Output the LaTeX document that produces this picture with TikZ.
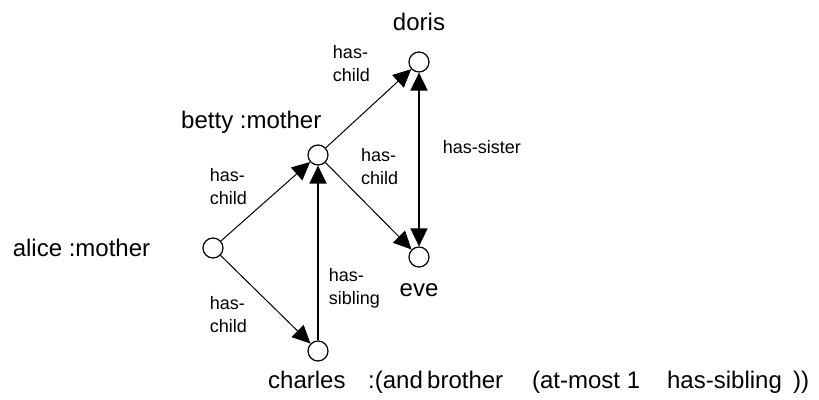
\documentclass[tikz,border=0pt]{standalone}
\usepackage{fontspec}
\setmainfont{Liberation Sans}
\usetikzlibrary{positioning, arrows.meta}

\tikzset{
  obj/.style={circle, draw, line width=1.2pt, minimum size=20pt, inner sep=0pt, on grid},
  nametext/.style={font=\fontsize{24}{28}\selectfont, inner sep=0pt},
  reltext/.style={font=\fontsize{18}{23}\selectfont, align=left, inner sep=0pt},
  rel/.style={-{Triangle[length=18pt, width=17pt]}, line width=1pt},
  relthick/.style={-{Triangle[length=18pt, width=17pt]}, line width=1.8pt},
}
\newcommand{\seg}[2]{\makebox[#1][l]{#2}}

\begin{document}
\begin{tikzpicture}
  \useasboundingbox (0,0) rectangle (819pt,399pt);

  \node[obj] (alice) at (213pt,151pt) {};
  \node[obj, above right=93pt and 105pt of alice] (betty) {};
  \node[obj, above right=93pt and 101pt of betty] (doris) {};
  \node[obj, below=195pt of doris] (eve) {};
  \node[obj, below=196pt of betty] (charles) {};

  % Names
  \node[nametext, left=52pt of alice] (alicename) {alice :mother};
  \node[nametext, above left=14pt and -11pt of betty] (bettyname) {betty :mother};
  \node[nametext, above=20pt of doris] (dorisname) {doris};
  \node[nametext, below=16pt of eve] (evename) {eve};
  \node[nametext, anchor=north west] (charlesname) at ([xshift=-50pt, yshift=-9pt]charles.south)
    {\seg{100pt}{charles}\seg{59pt}{:(and}\seg{105pt}{brother}\seg{135pt}{(at-most 1}\seg{126pt}{has-sibling}))};

  % Roles
  \draw[rel] (alice) -- node[reltext, anchor=south east, xshift=-18pt, yshift=-4pt] {has-\\child} (betty);
  \draw[rel] (alice) -- node[reltext, anchor=north east, xshift=-18pt, yshift=4pt] {has-\\child} (charles);
  \draw[rel] (betty) -- node[reltext, anchor=south east, xshift=2pt, yshift=26pt] {has-\\child} (doris);
  \draw[rel] (betty) -- node[reltext, anchor=south west, xshift=-8pt, yshift=21pt] {has-\\child} (eve);
  \draw[relthick] (charles) -- node[reltext, anchor=west, pos=0.3, xshift=10pt] {has-\\sibling} (betty);
  \draw[relthick, {Triangle[length=18pt, width=17pt]}-{Triangle[length=18pt, width=17pt]}] (doris) -- node[reltext, anchor=west, pos=0.43, xshift=23pt] {has-sister} (eve);
\end{tikzpicture}
\end{document}
